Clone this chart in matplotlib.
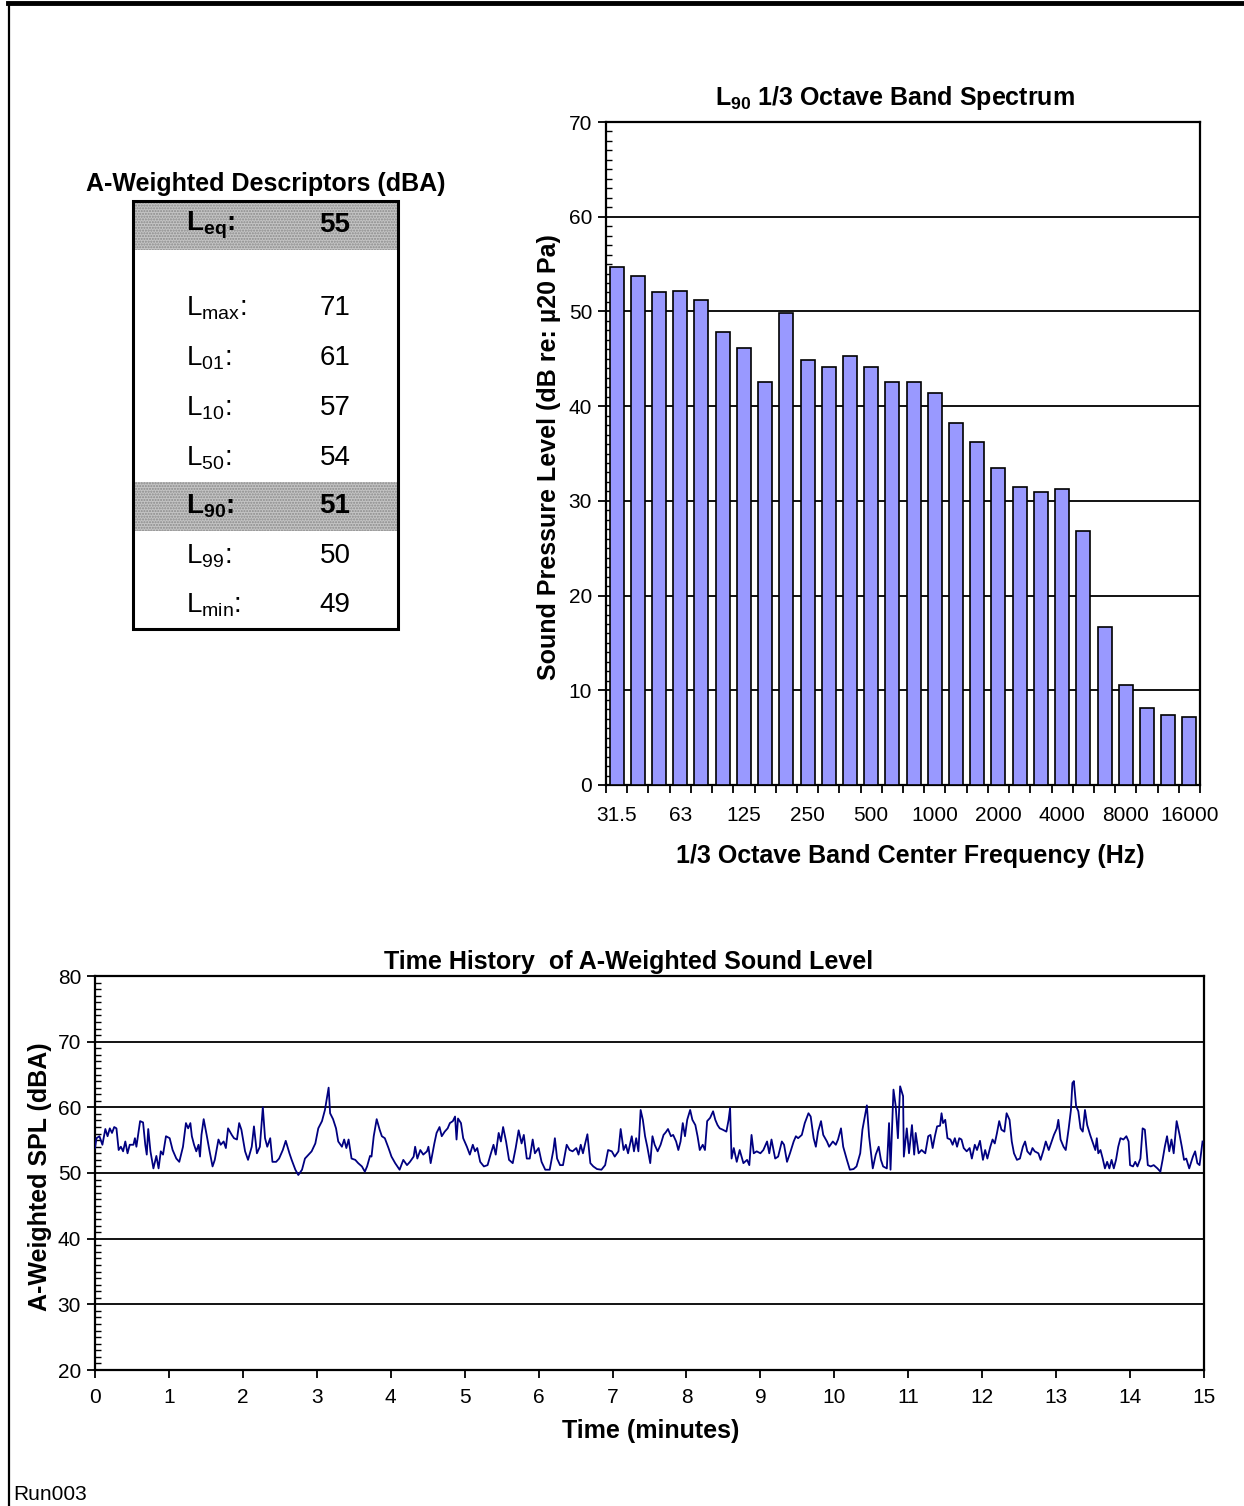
import matplotlib
matplotlib.use("Agg")
import matplotlib.pyplot as plt
from matplotlib.ticker import MultipleLocator, FixedLocator
from matplotlib.patches import Rectangle

plt.rcParams['font.family'] = ['Liberation Sans', 'DejaVu Sans']
plt.rcParams['mathtext.default'] = 'regular'

# 1/3 octave band spectrum (L90)
BANDS = ["31.5", "40", "50", "63", "80", "100", "125", "160", "200", "250",
         "315", "400", "500", "630", "800", "1000", "1250", "1600", "2000", "2500",
         "3150", "4000", "5000", "6300", "8000", "10000", "12500", "16000"]
L90_SPECTRUM = [54.7, 53.7, 52.0, 52.2, 51.2, 47.8, 46.1, 42.5, 49.8, 44.9,
                44.1, 45.3, 44.1, 42.6, 42.6, 41.4, 38.2, 36.2, 33.5, 31.5,
                30.9, 31.3, 26.8, 16.7, 10.6, 8.1, 7.4, 7.2]
BAND_LABELS = ["31.5", "63", "125", "250", "500", "1000", "2000", "4000", "8000", "16000"]

# descriptor table
DESC_NAMES = ["eq", "max", "01", "10", "50", "90", "99", "min"]
DESC_VALUES = [55, 71, 61, 57, 54, 51, 50, 49]
DESC_HIGHLIGHT = ["eq", "90"]

# time history (minutes, dBA)
TIME_MIN = [
    0.00, 0.02, 0.06, 0.10, 0.14, 0.17, 0.20, 0.23, 0.26, 0.29, 0.32, 0.35, 0.38, 0.41, 0.44, 0.47,
    0.52, 0.54, 0.56, 0.61, 0.65, 0.68, 0.70, 0.72, 0.75, 0.79, 0.83, 0.86, 0.89, 0.92, 0.96, 1.01,
    1.05, 1.10, 1.14, 1.19, 1.23, 1.26, 1.29, 1.31, 1.34, 1.37, 1.40, 1.42, 1.44, 1.47, 1.51, 1.55,
    1.59, 1.62, 1.67, 1.70, 1.74, 1.77, 1.80, 1.85, 1.88, 1.92, 1.95, 1.98, 2.03, 2.07, 2.12, 2.15,
    2.19, 2.23, 2.27, 2.30, 2.33, 2.37, 2.40, 2.45, 2.49, 2.54, 2.58, 2.63, 2.66, 2.71, 2.75, 2.80,
    2.84, 2.89, 2.93, 2.98, 3.02, 3.07, 3.11, 3.16, 3.18, 3.22, 3.26, 3.29, 3.34, 3.37, 3.40, 3.43,
    3.47, 3.52, 3.56, 3.61, 3.65, 3.68, 3.72,
    3.74, 3.77, 3.81, 3.85, 3.88, 3.92, 3.97, 4.01, 4.06, 4.12, 4.17, 4.22, 4.26, 4.31, 4.33, 4.36,
    4.40, 4.44, 4.49, 4.51, 4.54, 4.59, 4.62, 4.66, 4.69, 4.73, 4.77, 4.80, 4.84, 4.87, 4.89, 4.91,
    4.95, 4.98, 5.03, 5.07, 5.11, 5.14, 5.17, 5.21, 5.26, 5.31, 5.35, 5.39, 5.42, 5.46, 5.49, 5.52,
    5.56, 5.60, 5.65, 5.69, 5.73, 5.77, 5.80, 5.84, 5.88, 5.92, 5.95, 6.00, 6.04, 6.09, 6.15, 6.20,
    6.22, 6.25, 6.29, 6.33, 6.38, 6.42, 6.46, 6.51, 6.54, 6.57, 6.60, 6.63, 6.66, 6.70, 6.74, 6.79,
    6.85, 6.90, 6.94, 6.99, 7.03, 7.08, 7.11, 7.15, 7.18, 7.21, 7.26, 7.29, 7.32, 7.35,
    7.38, 7.41, 7.44, 7.47, 7.51, 7.54, 7.57, 7.61, 7.65, 7.69, 7.72, 7.75, 7.79, 7.82, 7.86, 7.89,
    7.92, 7.95, 7.98, 8.01, 8.05, 8.08, 8.12, 8.15, 8.18, 8.22, 8.25, 8.28, 8.32, 8.36, 8.39, 8.42,
    8.45, 8.49, 8.54, 8.57, 8.59, 8.61, 8.64, 8.68, 8.72, 8.77, 8.82, 8.85, 8.88, 8.91, 8.95, 9.00,
    9.04, 9.09, 9.12, 9.15, 9.20, 9.24, 9.29, 9.32, 9.36, 9.40, 9.45, 9.48, 9.51, 9.56, 9.60, 9.65,
    9.68, 9.72, 9.75, 9.78, 9.82, 9.85, 9.90, 9.93, 9.98, 10.02, 10.05, 10.09, 10.12, 10.17, 10.21, 10.26,
    10.30, 10.35, 10.38, 10.42, 10.44, 10.47, 10.52, 10.56, 10.60, 10.63, 10.66, 10.71, 10.74, 10.76, 10.80, 10.83,
    10.86, 10.89, 10.93, 10.94, 10.98, 11.01, 11.05, 11.08, 11.10, 11.14,
    11.18, 11.23, 11.27, 11.30, 11.33, 11.36, 11.39, 11.43, 11.45, 11.47, 11.50, 11.53, 11.57, 11.60, 11.63, 11.66,
    11.69, 11.72, 11.75, 11.79, 11.83, 11.86, 11.90, 11.93, 11.97, 12.01, 12.04, 12.07, 12.11, 12.14, 12.17, 12.20,
    12.23, 12.26, 12.30, 12.33, 12.37, 12.40, 12.43, 12.47, 12.51, 12.55, 12.58, 12.61, 12.65, 12.68, 12.71, 12.76,
    12.79, 12.83, 12.86, 12.90, 12.94, 12.97, 13.01, 13.03, 13.06, 13.10, 13.13, 13.17, 13.20, 13.22, 13.24, 13.27,
    13.30, 13.33, 13.36, 13.39, 13.42, 13.46, 13.50, 13.53, 13.55, 13.57, 13.60, 13.63, 13.66, 13.69, 13.72, 13.75,
    13.78, 13.81, 13.84, 13.87, 13.91, 13.95, 13.98, 14.00, 14.04, 14.07, 14.10, 14.14, 14.17, 14.20, 14.24, 14.28,
    14.32, 14.37, 14.41, 14.44, 14.47, 14.50, 14.53, 14.56, 14.59, 14.63, 14.67, 14.70, 14.73, 14.76, 14.80, 14.85,
    14.88, 14.91, 14.94, 14.98,
]
LEVEL_DBA = [
    53.8, 55.3, 55.6, 54.3, 56.7, 55.6, 56.8, 56.1, 57.0, 56.8, 53.5, 54.0, 53.3, 54.8, 53.0, 54.3,
    54.3, 55.3, 54.0, 57.9, 57.7, 54.3, 52.8, 56.7, 53.3, 50.7, 52.6, 50.7, 53.3, 52.8, 55.6, 55.3,
    53.5, 52.2, 51.7, 54.0, 57.6, 56.8, 57.6, 55.6, 54.3, 53.3, 54.3, 52.5, 55.8, 58.2, 55.8, 53.3,
    51.0, 52.0, 55.1, 54.3, 54.8, 53.8, 56.8, 55.8, 55.3, 55.1, 57.6, 56.6, 53.3, 52.0, 54.0, 57.1,
    53.0, 54.0, 60.0, 55.3, 54.0, 55.3, 51.7, 51.7, 52.2, 53.5, 54.9, 53.0, 52.0, 50.5, 49.7, 50.5,
    52.2, 52.8, 53.3, 54.5, 56.8, 57.9, 59.6, 63.0, 59.1, 58.2, 56.8, 54.8, 54.0, 55.1, 53.8, 55.1,
    52.2, 52.0, 51.5, 51.0, 50.2, 51.0, 52.6,
    52.5, 55.6, 58.2, 56.6, 55.6, 55.3, 53.8, 52.5, 51.5, 50.5, 52.0, 51.2, 51.7, 52.5, 54.0, 52.2,
    53.5, 52.8, 53.3, 54.0, 51.5, 54.5, 56.1, 57.0, 55.6, 56.3, 56.8, 57.6, 57.9, 58.6, 55.1, 58.3,
    57.6, 55.3, 54.0, 52.8, 54.3, 53.3, 53.8, 51.7, 51.0, 51.2, 52.8, 54.3, 52.8, 56.1, 54.8, 57.0,
    54.8, 52.0, 51.5, 53.8, 56.5, 54.5, 55.8, 52.2, 52.2, 55.1, 53.0, 53.8, 51.7, 50.5, 50.5, 53.5,
    55.3, 52.2, 51.2, 51.2, 54.3, 53.5, 53.3, 53.8, 52.8, 54.3, 53.0, 54.5, 55.9, 51.5, 51.0, 50.6,
    50.5, 51.2, 53.5, 53.3, 52.5, 53.3, 56.7, 53.5, 54.3, 53.0, 55.6, 53.3, 55.3, 53.3,
    59.6, 58.1, 55.6, 54.0, 51.5, 55.6, 54.3, 53.3, 54.3, 55.8, 56.2, 56.7, 55.6, 55.8, 54.8, 53.5,
    54.8, 57.6, 55.6, 58.1, 59.6, 58.1, 57.3, 55.6, 53.5, 54.3, 53.5, 57.9, 58.4, 59.4, 58.1, 57.3,
    56.8, 56.6, 56.3, 58.1, 59.9, 52.2, 53.8, 51.7, 53.5, 51.5, 52.0, 51.2, 55.8, 53.0, 53.3, 53.0,
    53.5, 54.8, 53.0, 55.1, 52.2, 52.5, 54.8, 54.3, 51.7, 53.0, 54.8, 55.6, 55.3, 55.8, 57.6, 59.1,
    58.6, 55.3, 54.0, 56.3, 57.9, 55.8, 54.8, 54.0, 54.8, 54.3, 55.1, 56.8, 54.0, 52.0, 50.5, 50.6,
    51.0, 53.0, 56.6, 59.1, 60.3, 55.6, 50.7, 52.8, 54.0, 52.0, 51.0, 50.7, 57.6, 50.5, 62.7, 60.2,
    55.3, 63.2, 61.7, 52.5, 56.8, 53.0, 57.3, 52.8, 56.1, 53.0,
    53.5, 53.0, 55.6, 55.8, 53.8, 55.6, 57.1, 57.2, 59.1, 57.6, 58.1, 55.3, 55.1, 54.3, 55.3, 54.0,
    55.3, 55.1, 53.8, 53.3, 53.8, 52.2, 54.3, 53.5, 54.9, 52.0, 53.5, 52.2, 54.0, 55.1, 54.5, 56.1,
    57.9, 56.6, 56.3, 59.1, 58.1, 54.8, 53.0, 52.0, 52.2, 54.0, 54.8, 53.3, 52.8, 53.8, 53.3, 53.0,
    52.0, 53.5, 54.8, 53.5, 54.8, 55.8, 56.8, 58.1, 55.1, 54.0, 53.5, 56.8, 59.6, 63.7, 64.0, 60.2,
    59.4, 56.8, 56.3, 59.6, 57.3, 55.8, 54.5, 53.5, 55.3, 53.0, 53.5, 52.2, 50.7, 51.7, 50.7, 52.0,
    50.7, 52.0, 54.0, 55.3, 55.1, 55.6, 54.8, 51.2, 51.0, 51.7, 51.0, 52.2, 56.8, 56.6, 51.2, 51.0,
    51.2, 50.7, 50.2, 52.0, 54.0, 55.6, 53.3, 55.1, 53.0, 57.9, 55.8, 54.0, 52.0, 52.2, 50.7, 52.5,
    53.3, 51.5, 51.2, 54.8,
]

W, H = 1244, 1506
fig = plt.figure(figsize=(W / 100, H / 100), dpi=100)
LABEL_FS = 18
TICK_FS = 15


def px_axes(left, top, right, bottom):
    return fig.add_axes([left / W, 1 - bottom / H, (right - left) / W, (bottom - top) / H])


def px_text(x, y, s, **kw):
    kw.setdefault("ha", "center")
    kw.setdefault("va", "center")
    return fig.text(x / W, 1 - y / H, s, **kw)


def style_frame(ax):
    for s in ax.spines.values():
        s.set_linewidth(1.6)
        s.set_color("black")
    ax.tick_params(which="major", direction="out", length=6, width=1.3, labelsize=TICK_FS, pad=4)
    ax.tick_params(which="minor", direction="in", length=4, width=1.0)


# ---- spectrum bar chart ----
ax1 = px_axes(606, 122, 1200, 785)
pos = list(range(len(BANDS)))
ax1.bar(pos, L90_SPECTRUM, width=0.66, color="#9999ff", edgecolor="black", linewidth=1.2, zorder=3)
ax1.set_xlim(-0.5, len(BANDS) - 0.5)
ax1.set_ylim(0, 70)
ax1.yaxis.set_major_locator(MultipleLocator(10))
ax1.yaxis.set_minor_locator(MultipleLocator(1))
ax1.grid(axis="y", which="major", color="black", linewidth=1.3, zorder=1)
ax1.set_xticks([BANDS.index(b) for b in BAND_LABELS])
ax1.set_xticklabels(BAND_LABELS)
ax1.xaxis.set_minor_locator(FixedLocator([p - 0.5 for p in pos] + [len(BANDS) - 0.5]))
style_frame(ax1)
ax1.tick_params(axis="x", which="major", length=0, pad=15)
ax1.tick_params(axis="x", which="minor", direction="out", length=6, width=1.3)
px_text(895, 98, "$L_{90}$ 1/3 Octave Band Spectrum", fontsize=LABEL_FS, fontweight="bold")
px_text(910, 856, "1/3 Octave Band Center Frequency (Hz)", fontsize=LABEL_FS, fontweight="bold")
px_text(549, 457, "Sound Pressure Level (dB re: \u00b520 Pa)", fontsize=LABEL_FS, fontweight="bold",
        rotation=90)

# ---- time history ----
ax2 = px_axes(95, 976, 1204, 1370)
ax2.plot(TIME_MIN, LEVEL_DBA, color="#000080", linewidth=1.3, zorder=3)
ax2.set_xlim(0, 15)
ax2.set_ylim(20, 80)
ax2.xaxis.set_major_locator(MultipleLocator(1))
ax2.yaxis.set_major_locator(MultipleLocator(10))
ax2.yaxis.set_minor_locator(MultipleLocator(1))
ax2.grid(axis="y", which="major", color="black", linewidth=1.3, zorder=1)
style_frame(ax2)
ax2.tick_params(axis="x", which="major", pad=7)
px_text(629, 962, "Time History  of A-Weighted Sound Level", fontsize=LABEL_FS, fontweight="bold")
px_text(651, 1431, "Time (minutes)", fontsize=LABEL_FS, fontweight="bold")
px_text(40, 1177, "A-Weighted SPL (dBA)", fontsize=LABEL_FS, fontweight="bold", rotation=90)

# ---- overlay: page frame, descriptor table, run id ----
ov = fig.add_axes([0, 0, 1, 1], zorder=-1)
ov.set_xlim(0, W)
ov.set_ylim(H, 0)
ov.axis("off")
ov.plot([8, W], [3, 3], color="black", linewidth=3.5)
ov.plot([9, 9], [3, H], color="black", linewidth=1.6)
ov.text(13, 1495, "Run003", fontsize=15, va="center", ha="left")

ov.text(266, 184, "A-Weighted Descriptors (dBA)", fontsize=LABEL_FS, fontweight="bold",
        ha="center", va="center")
row_y = [225, 308, 358, 408, 458, 506, 556, 605]
for name, val, y in zip(DESC_NAMES, DESC_VALUES, row_y):
    bold = name in DESC_HIGHLIGHT
    if bold:
        ov.add_patch(Rectangle((134, y - 24), 263, 49, facecolor="#c4c4c4", edgecolor="#8a8a8a",
                               hatch="......", linewidth=0))
    w = "bold" if bold else "normal"
    ov.text(186, y, "$L_{%s}$:" % name, fontsize=20, fontweight=w, ha="left", va="center")
    ov.text(335, y, str(val), fontsize=20, fontweight=w, ha="center", va="center")
ov.add_patch(Rectangle((133, 201), 265, 428, fill=False, edgecolor="black", linewidth=2.2))

fig.savefig("out.png", dpi=100)
